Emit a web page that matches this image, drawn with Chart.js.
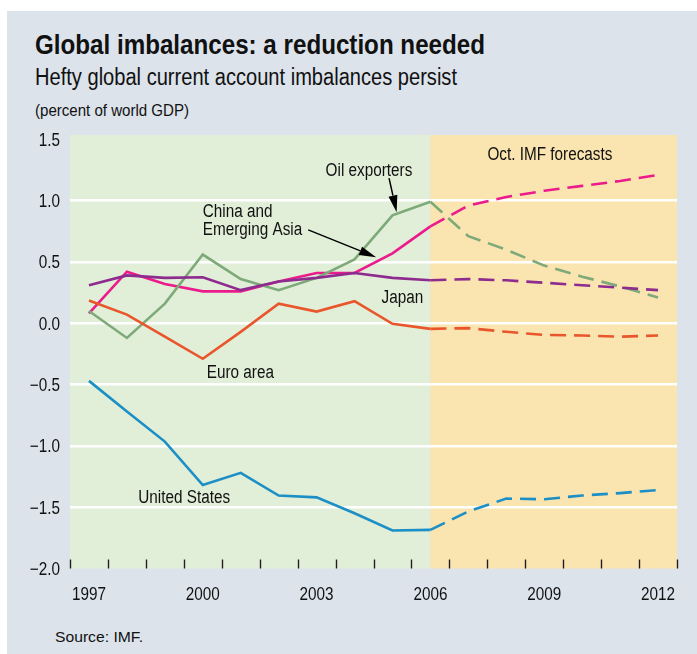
<!DOCTYPE html>
<html>
<head>
<meta charset="utf-8">
<script src="https://cdn.jsdelivr.net/npm/chart.js@4.4.1/dist/chart.umd.min.js"></script>
<style>
  html, body { margin: 0; padding: 0; background: #ffffff; }
  #frame { position: absolute; left: 7px; top: 11px; width: 690px; height: 643px; background: #dce3eb; }
  .txt { position: absolute; white-space: nowrap; color: #111; line-height: 1; transform-origin: 0 0;
         font-family: "Liberation Sans", Arimo, Arial, sans-serif; }
  #title { left: 35px; top: 30.6px; font-size: 28px; font-weight: bold; }
  #subtitle { left: 35px; top: 66.1px; font-size: 23.5px; }
  #units { left: 35px; top: 103.2px; font-size: 16px; }
  #source { left: 55px; top: 629.4px; font-size: 15.5px; }
  #c { position: absolute; left: 0; top: 0; }
</style>
</head>
<body>
<div id="frame"></div>
<div class="txt" id="title">Global imbalances: a reduction needed</div>
<div class="txt" id="subtitle">Hefty global current account imbalances persist</div>
<div class="txt" id="units">(percent of world GDP)</div>
<div class="txt" id="source">Source: IMF.</div>
<canvas id="c" width="697" height="654"></canvas>
<script>
// ---- data ----
const years = [1997,1998,1999,2000,2001,2002,2003,2004,2005,2006,2007,2008,2009,2010,2011,2012];
const oilExporters = [0.10,-0.12,0.16,0.56,0.36,0.27,0.37,0.52,0.88,0.99,0.71,0.60,0.47,0.38,0.30,0.21];
const chinaEmergingAsia = [0.08,0.42,0.32,0.26,0.26,0.34,0.41,0.41,0.57,0.79,0.96,1.03,1.08,1.12,1.16,1.21];
const japan = [0.31,0.39,0.37,0.375,0.27,0.34,0.37,0.41,0.37,0.35,0.36,0.35,0.33,0.31,0.29,0.27];
const euroArea = [0.185,0.07,-0.11,-0.29,-0.07,0.16,0.095,0.18,-0.005,-0.046,-0.04,-0.07,-0.095,-0.10,-0.11,-0.10];
const unitedStates = [-0.47,-0.72,-0.965,-1.32,-1.22,-1.405,-1.42,-1.55,-1.69,-1.685,-1.535,-1.43,-1.435,-1.405,-1.385,-1.36];
const forecastStart = 2006;
const yTickValues = [-2,-1.5,-1,-0.5,0,0.5,1,1.5];
const xTickLabels = [1997,2000,2003,2006,2009,2012];

// annotation labels (data coordinates)
const labels = [
  { text: "Oil exporters", x: 2004.38, y: 1.25, align: "center" },
  { text: "China and", x: 2000.0, y: 0.915, align: "left" },
  { text: "Emerging Asia", x: 2000.0, y: 0.77, align: "left" },
  { text: "Japan", x: 2005.26, y: 0.217, align: "center" },
  { text: "Euro area", x: 2000.99, y: -0.395, align: "center" },
  { text: "United States", x: 1999.51, y: -1.41, align: "center" },
  { text: "Oct. IMF forecasts", x: 2009.15, y: 1.387, align: "center" }
];
const arrows = [
  { from: [2004.91, 1.183], to: [2005.11, 0.905] },
  { from: [2002.78, 0.761], to: [2004.57, 0.538] }
];

// fit HTML headings to the reference widths (condensed look)
[['title', 450], ['subtitle', 422], ['units', 154], ['source', 88]].forEach(([id, w]) => {
  const el = document.getElementById(id);
  const cur = el.getBoundingClientRect().width;
  el.style.transform = 'scaleX(' + (w / cur) + ')';
});

const pts = vals => years.map((yr, i) => ({ x: yr, y: vals[i] }));
const dashSeg = { borderDash: ctx => (ctx.p0.parsed.x >= forecastStart ? [16, 8] : undefined) };
const mk = (label, vals, color) => ({
  label, data: pts(vals), borderColor: color, borderWidth: 2.6,
  pointRadius: 0, tension: 0, fill: false, segment: dashSeg
});

const FONT = '"Liberation Sans", Arimo, Arial, sans-serif';
const SQ = 0.85; // horizontal squeeze for condensed look

function condText(ctx, text, x, y, align, size) {
  ctx.save();
  ctx.font = size + 'px ' + FONT;
  ctx.textAlign = align;
  ctx.textBaseline = 'alphabetic';
  ctx.translate(x, y);
  ctx.scale(SQ, 1);
  ctx.fillText(text, 0, 0);
  ctx.restore();
}

const bgPlugin = {
  id: 'bg',
  beforeDraw(chart) {
    const { ctx, chartArea: a, scales: { x } } = chart;
    const xs = x.getPixelForValue(forecastStart);
    ctx.save();
    ctx.fillStyle = '#e1eed8';
    ctx.fillRect(a.left, a.top, xs - a.left, a.bottom - a.top);
    ctx.fillStyle = '#fae4b0';
    ctx.fillRect(xs, a.top, a.right - xs, a.bottom - a.top);
    ctx.restore();
  }
};

const marksPlugin = {
  id: 'marks',
  afterDatasetsDraw(chart) {
    const { ctx, chartArea: a, scales: { x, y } } = chart;
    ctx.save();
    // tick marks between years
    ctx.strokeStyle = '#231f20';
    ctx.lineWidth = 1.4;
    for (let v = x.min; v <= x.max + 1e-9; v += 1) {
      const px = Math.round(x.getPixelForValue(v)) + 0.5;
      ctx.beginPath();
      ctx.moveTo(px, a.bottom);
      ctx.lineTo(px, a.bottom - 9);
      ctx.stroke();
    }
    ctx.fillStyle = '#111';
    // axis labels
    x.ticks.forEach(t => condText(ctx, String(t.value), x.getPixelForValue(t.value), a.bottom + 31.5, 'center', 18));
    y.ticks.forEach(t => condText(ctx, t.value.toFixed(1).replace('-', '\u2212'), a.left - 10, y.getPixelForValue(t.value) + 6.5, 'right', 18));
    // annotation labels
    labels.forEach(l => condText(ctx, l.text, x.getPixelForValue(l.x), y.getPixelForValue(l.y) + 6.4, l.align, 18));
    // arrows
    arrows.forEach(ar => {
      const x1 = x.getPixelForValue(ar.from[0]), y1 = y.getPixelForValue(ar.from[1]);
      const x2 = x.getPixelForValue(ar.to[0]), y2 = y.getPixelForValue(ar.to[1]);
      const ang = Math.atan2(y2 - y1, x2 - x1);
      const hl = 17, hw = 4.5;
      const bx = x2 - hl * Math.cos(ang), by = y2 - hl * Math.sin(ang);
      ctx.strokeStyle = '#000';
      ctx.lineWidth = 1.5;
      ctx.beginPath();
      ctx.moveTo(x1, y1);
      ctx.lineTo(bx, by);
      ctx.stroke();
      ctx.fillStyle = '#000';
      ctx.beginPath();
      ctx.moveTo(x2, y2);
      ctx.lineTo(bx + hw * Math.sin(ang), by - hw * Math.cos(ang));
      ctx.lineTo(bx - hw * Math.sin(ang), by + hw * Math.cos(ang));
      ctx.closePath();
      ctx.fill();
    });
    ctx.restore();
  }
};

new Chart(document.getElementById('c'), {
  type: 'line',
  data: {
    datasets: [
      mk('United States', unitedStates, '#1b8fc6'),
      mk('Euro area', euroArea, '#e9562b'),
      mk('Japan', japan, '#8e2b8e'),
      mk('Oil exporters', oilExporters, '#7daa78'),
      mk('China and Emerging Asia', chinaEmergingAsia, '#ec1b8c')
    ]
  },
  options: {
    responsive: false,
    animation: false,
    devicePixelRatio: 1,
    layout: { padding: { left: 0, top: 135, right: 20, bottom: 0 } },
    plugins: { legend: { display: false }, tooltip: { enabled: false }, title: { display: false } },
    scales: {
      x: {
        type: 'linear',
        min: 1996.5,
        max: 2012.5,
        afterBuildTicks: s => { s.ticks = xTickLabels.map(v => ({ value: v })); },
        afterFit: s => { s.height = 85.5; },
        grid: { display: false, drawTicks: false },
        border: { display: false },
        ticks: { display: false }
      },
      y: {
        min: -2,
        max: 1.535,
        afterBuildTicks: s => { s.ticks = yTickValues.map(v => ({ value: v })); },
        afterFit: s => { s.width = 70; },
        grid: {
          drawTicks: false,
          lineWidth: 2.6,
          color: c => (c.tick && (c.tick.value === -2 || c.tick.value === 1.5)) ? 'rgba(0,0,0,0)' : '#ffffff'
        },
        border: { display: false },
        ticks: { display: false }
      }
    }
  },
  plugins: [bgPlugin, marksPlugin]
});
</script>
</body>
</html>
